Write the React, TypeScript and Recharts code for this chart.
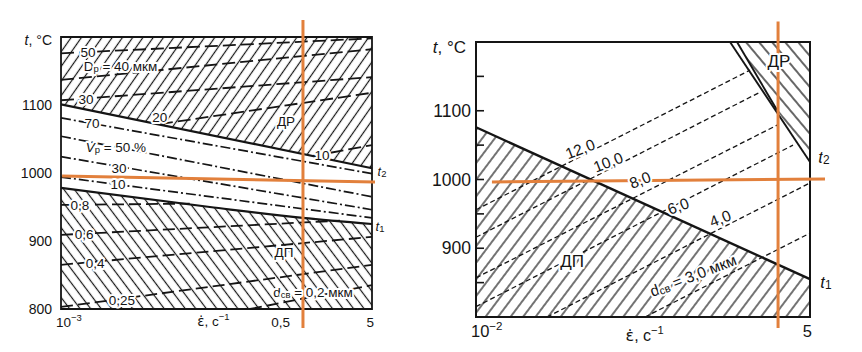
import React from 'react';
import {
  ComposedChart, Line, Area, XAxis, YAxis,
  ReferenceLine, ReferenceDot, ReferenceArea,
} from 'recharts';

const FONT = '"Liberation Sans", Arial, Helvetica, sans-serif';
const MARK_FONT = '"DejaVu Sans", sans-serif';
const INK = '#151515';
const ORANGE = '#e2803c';

// ---------- left diagram ----------
const L_X_TICKS = [0.001, 0.5, 5];
const L_X_LABELS = ['10^{−3}', '0,5', '5'];
const L_Y_TICKS = [800, 900, 1000, 1100];

// boundaries t2 (ДР above) and t1 (ДП below)
const L_T2 = [{ x: 0.001, y: 1101 }, { x: 5, y: 1007 }];
const L_T1 = [{ x: 0.001, y: 978 }, { x: 0.059, y: 950 }, { x: 0.75, y: 934 }, { x: 5, y: 925 }];

// D_р, dashed lines in ДР
const L_GRAIN = [
  [{ x: 0.001, y: 1176 }, { x: 5, y: 1198 }],
  [{ x: 0.001, y: 1137 }, { x: 5, y: 1182 }],
  [{ x: 0.001, y: 1107 }, { x: 5, y: 1141 }],
  [{ x: 0.015, y: 1072 }, { x: 5, y: 1118 }],
  [{ x: 0.99, y: 1025 }, { x: 5, y: 1041 }],
];

// V_р, dash-dot lines between t1 and t2
const L_VOLUME = [
  [{ x: 0.001, y: 1081 }, { x: 5, y: 999 }],
  [{ x: 0.001, y: 1054 }, { x: 5, y: 965 }],
  [{ x: 0.001, y: 1024 }, { x: 5, y: 946 }],
  [{ x: 0.001, y: 994 }, { x: 5, y: 934 }],
];

// d_св, dashed lines in ДП
const L_SUBGRAIN = [
  [{ x: 0.001, y: 953 }, { x: 0.034, y: 955 }],
  [{ x: 0.001, y: 909 }, { x: 2.08, y: 930 }],
  [{ x: 0.001, y: 865 }, { x: 5, y: 906 }],
  [{ x: 0.001, y: 803 }, { x: 5, y: 865 }],
  [{ x: 0.177, y: 800 }, { x: 5, y: 835 }],
];

const L_LABELS = [
  { x: 0.0021, y: 1178, text: '50' },
  { x: 0.0051, y: 1158, text: 'D_{р} = 40 мкм' },
  { x: 0.00198, y: 1109, text: '30' },
  { x: 0.015, y: 1082, text: '20' },
  { x: 0.474, y: 1076, text: 'ДР' },
  { x: 1.27, y: 1026, text: '10' },
  { x: 0.00234, y: 1073, text: '70' },
  { x: 0.0045, y: 1038, text: '*V*_{р} = 50 %' },
  { x: 0.0049, y: 1007, text: '30' },
  { x: 0.00476, y: 984, text: '10' },
  { x: 0.00168, y: 953, text: '0,8' },
  { x: 0.00188, y: 910, text: '0,6' },
  { x: 0.00254, y: 868, text: '0,4' },
  { x: 0.449, y: 884, text: 'ДП' },
  { x: 0.00531, y: 813, text: '0,25' },
  { x: 0.993, y: 825, text: 'd_{св} = 0,2 мкм' },
  { x: 6.58, y: 1003, text: '*t*_{2}' },
  { x: 6.22, y: 922, text: '*t*_{1}' },
];

const L_MARK_H = [{ x: 0.00103, y: 995.6 }, { x: 5.43, y: 986.8 }];
const L_MARK_V = [{ x: 0.755, y: 1225 }, { x: 0.755, y: 772 }];

// ---------- right diagram ----------
const R_X_TICKS = [0.01, 5];
const R_X_LABELS = ['10^{−2}', '5'];
const R_Y_TICKS = [850, 900, 950, 1000, 1050, 1100, 1150];
const R_Y_LABELED = [900, 1000, 1100];

const R_T1 = [{ x: 0.01, y: 1076 }, { x: 5, y: 855 }];
const R_T2_OUTER = [{ x: 1.129, y: 1200 }, { x: 5, y: 1025.5 }];
const R_T2_INNER = [{ x: 1.286, y: 1200 }, { x: 2.706, y: 1101 }];

// d_св, dashed
const R_SUBGRAIN = [
  [{ x: 0.01, y: 956 }, { x: 1.637, y: 1159 }],
  [{ x: 0.01, y: 916 }, { x: 1.972, y: 1127 }],
  [{ x: 0.01, y: 857 }, { x: 2.706, y: 1079 }],
  [{ x: 0.01, y: 815 }, { x: 3.645, y: 1050 }],
  [{ x: 0.0375, y: 800 }, { x: 5, y: 995 }],
  [{ x: 0.232, y: 800 }, { x: 5, y: 922 }],
];

const R_LINE_LABELS = [
  { x: 0.0692, y: 1045, text: '12,0' },
  { x: 0.1166, y: 1026, text: '10,0' },
  { x: 0.2114, y: 1000, text: '8,0' },
  { x: 0.429, y: 962, text: '6,0' },
  { x: 0.937, y: 944, text: '4,0' },
  { x: 0.567, y: 861, text: 'd_{св} = 3,0 мкм' },
];
const R_LABELS = [
  { x: 2.81, y: 1172, text: 'ДР' },
  { x: 0.0597, y: 881, text: 'ДП' },
  { x: 6.49, y: 1033, text: '*t*_{2}' },
  { x: 6.73, y: 851, text: '*t*_{1}' },
];

const R_MARK_H = [{ x: 0.01346, y: 996.4 }, { x: 6.61, y: 1000.7 }];
const R_MARK_V = [{ x: 2.76, y: 1230 }, { x: 2.76, y: 784 }];

// "*it*" italic, "_{x}" subscript, "^{x}" superscript, "~x~" glyph with combining mark
function rich(str: string, fs: number) {
  const parts = str.split(/(_\{[^}]*\}|\^\{[^}]*\}|\*[^*]+\*|~[^~]+~)/).filter(Boolean);
  return parts.map((p, i) => {
    if (p.startsWith('_{'))
      return <tspan key={i} fontSize={fs * 0.7} baselineShift="-28%">{p.slice(2, -1)}</tspan>;
    if (p.startsWith('^{'))
      return <tspan key={i} fontSize={fs * 0.7} baselineShift="45%">{p.slice(2, -1)}</tspan>;
    if (p.startsWith('*'))
      return <tspan key={i} fontStyle="italic">{p.slice(1, -1)}</tspan>;
    if (p.startsWith('~'))
      return <tspan key={i} fontFamily={MARK_FONT}>{p.slice(1, -1)}</tspan>;
    return <tspan key={i}>{p}</tspan>;
  });
}

const RichLabel = (props: any) => {
  const { viewBox, text, fs, rot } = props;
  if (!viewBox) return null;
  const cx = viewBox.x + (viewBox.width || 0) / 2;
  const cy = viewBox.y + (viewBox.height || 0) / 2;
  return (
    <text
      x={cx} y={cy} textAnchor="middle" dominantBaseline="central"
      fontFamily={FONT} fontSize={fs} fill={INK}
      stroke="#fff" strokeWidth={4} paintOrder="stroke" strokeLinejoin="round"
      transform={rot ? `rotate(${rot} ${cx} ${cy})` : undefined}
    >
      {rich(text, fs)}
    </text>
  );
};

const AxisTitle = (props: any) => {
  const { viewBox, text, fs, fx, dx, dy, anchor } = props;
  if (!viewBox) return null;
  const x = fx != null ? viewBox.x + viewBox.width * fx : viewBox.x + viewBox.width + dx;
  return (
    <text x={x} y={viewBox.y + dy} textAnchor={anchor} dominantBaseline="central"
      fontFamily={FONT} fontSize={fs} fill={INK}>
      {rich(text, fs)}
    </text>
  );
};

const makeXTick = (ticks: number[], labels: string[], fs: number, dy: number) => (p: any) => {
  const i = ticks.indexOf(p.payload.value);
  const first = i === 0;
  return (
    <text x={first ? p.x - 5 : p.x + 2} y={p.y + dy} textAnchor={first ? 'start' : 'end'}
      dominantBaseline="central" fontFamily={FONT} fontSize={fs} fill={INK}>
      {rich(labels[i] ?? String(p.payload.value), fs)}
    </text>
  );
};

const LeftYTick = (p: any) => (
  <text x={p.x} y={p.y} textAnchor="end" dominantBaseline="central"
    fontFamily={FONT} fontSize={14} fill={INK}>{p.payload.value}</text>
);

const RightYTick = (p: any) => {
  const v = p.payload.value;
  return (
    <g>
      <line x1={p.x + 4} x2={p.x + 12} y1={p.y} y2={p.y} stroke={INK} strokeWidth={1.6} />
      {R_Y_LABELED.includes(v) && (
        <text x={p.x - 1} y={p.y} textAnchor="end" dominantBaseline="central"
          fontFamily={FONT} fontSize={17.5} fill={INK}>{v}</text>
      )}
    </g>
  );
};

const hatch = (id: string, angle: number, gap: number, w: number) => (
  <pattern id={id} patternUnits="userSpaceOnUse" width={gap} height={gap}
    patternTransform={`rotate(${angle})`}>
    <line x1={gap / 2} y1={0} x2={gap / 2} y2={gap} stroke={INK} strokeWidth={w} />
  </pattern>
);

const seg = (pts: { x: number; y: number }[]) => pts.map((p) => ({ x: p.x, y: p.y }));

function LeftChart() {
  const dr = L_T2.map((p) => ({ x: p.x, r: [p.y, 1200] }));
  const dp = L_T1.map((p) => ({ x: p.x, r: [800, p.y] }));
  return (
    <ComposedChart width={430} height={352} margin={{ top: 37, right: 58, bottom: 13, left: 11 }}>
      <defs>
        {hatch('l-fwd', 35, 8.4, 1.2)}
        {hatch('l-back', -37, 8.4, 1.2)}
      </defs>
      <XAxis type="number" dataKey="x" scale="log" domain={[0.001, 5]} ticks={L_X_TICKS}
        interval={0} height={30} axisLine={false} tickLine={false} tickSize={0} tickMargin={13}
        tick={makeXTick(L_X_TICKS, L_X_LABELS, 13.5, 0)}
        label={<AxisTitle text={'~ε\u0307~, с^{−1}'} fs={13.5} fx={0.49} dy={12} anchor="middle" />} />
      <YAxis type="number" domain={[800, 1200]} ticks={L_Y_TICKS} interval={0} width={50}
        axisLine={false} tickLine={false} tickSize={0} tickMargin={9} tick={<LeftYTick />}
        label={<AxisTitle text="*t*, °C" fs={14} dx={-9} dy={3} anchor="end" />} />

      <Area data={dr} dataKey="r" type="linear" stroke="none" fill="url(#l-fwd)" fillOpacity={1}
        isAnimationActive={false} activeDot={false} />
      <Area data={dp} dataKey="r" type="monotone" stroke="none" fill="url(#l-back)" fillOpacity={1}
        isAnimationActive={false} activeDot={false} />

      {L_GRAIN.map((pts, i) => (
        <Line key={'g' + i} data={seg(pts)} dataKey="y" type="linear" stroke={INK} strokeWidth={1.8}
          strokeDasharray="13 5" dot={false} activeDot={false} isAnimationActive={false} />
      ))}
      {L_VOLUME.map((pts, i) => (
        <Line key={'v' + i} data={seg(pts)} dataKey="y" type="linear" stroke={INK} strokeWidth={1.7}
          strokeDasharray="10 3 2 3" dot={false} activeDot={false} isAnimationActive={false} />
      ))}
      {L_SUBGRAIN.map((pts, i) => (
        <Line key={'s' + i} data={seg(pts)} dataKey="y" type="linear" stroke={INK} strokeWidth={1.8}
          strokeDasharray="12 5" dot={false} activeDot={false} isAnimationActive={false} />
      ))}
      <Line data={L_T2} dataKey="y" type="linear" stroke={INK} strokeWidth={2.2}
        dot={false} activeDot={false} isAnimationActive={false} />
      <Line data={L_T1} dataKey="y" type="monotone" stroke={INK} strokeWidth={2.2}
        dot={false} activeDot={false} isAnimationActive={false} />

      <ReferenceArea x1={0.001} x2={5} y1={800} y2={1200} fill="none" fillOpacity={0}
        stroke={INK} strokeWidth={1.8} ifOverflow="visible" />

      {L_LABELS.map((l, i) => (
        <ReferenceDot key={'lb' + i} x={l.x} y={l.y} r={0} fill="none" stroke="none" ifOverflow="visible"
          label={<RichLabel text={l.text} fs={13.5} />} />
      ))}

      <ReferenceLine segment={L_MARK_H} stroke={ORANGE} strokeWidth={3} ifOverflow="visible" />
      <ReferenceLine segment={L_MARK_V} stroke={ORANGE} strokeWidth={3} ifOverflow="visible" />
    </ComposedChart>
  );
}

function RightChart() {
  const dp = R_T1.map((p) => ({ x: p.x, r: [800, p.y] }));
  const dr = [...R_T2_INNER, R_T2_OUTER[R_T2_OUTER.length - 1]].map((p) => ({ x: p.x, r: [p.y, 1200] }));
  return (
    <ComposedChart width={432} height={352} margin={{ top: 42, right: 52, bottom: 5, left: 6 }}>
      <defs>
        {hatch('r-fwd', 37, 10, 1.2)}
        {hatch('r-back', -40, 10, 1.3)}
      </defs>
      <XAxis type="number" dataKey="x" scale="log" domain={[0.01, 5]} ticks={R_X_TICKS}
        interval={0} height={30} axisLine={false} tickLine={false} tickSize={0} tickMargin={14}
        tick={makeXTick(R_X_TICKS, R_X_LABELS, 16.5, 0)}
        label={<AxisTitle text={'~ε\u0307~, с^{−1}'} fs={16} fx={0.505} dy={18} anchor="middle" />} />
      <YAxis type="number" domain={[800, 1200]} ticks={R_Y_TICKS} interval={0} width={40}
        axisLine={false} tickLine={false} tickSize={0} tickMargin={4} tick={<RightYTick />}
        label={<AxisTitle text="*t*, °C" fs={17} dx={-10} dy={5} anchor="end" />} />

      <Area data={dp} dataKey="r" type="linear" stroke="none" fill="url(#r-fwd)" fillOpacity={1}
        isAnimationActive={false} activeDot={false} />
      <Area data={dr} dataKey="r" type="linear" stroke="none" fill="url(#r-back)" fillOpacity={1}
        isAnimationActive={false} activeDot={false} />

      {R_SUBGRAIN.map((pts, i) => (
        <Line key={'s' + i} data={seg(pts)} dataKey="y" type="linear" stroke={INK} strokeWidth={1.3}
          strokeDasharray="5 3" dot={false} activeDot={false} isAnimationActive={false} />
      ))}
      <Line data={R_T1} dataKey="y" type="linear" stroke={INK} strokeWidth={2.4}
        dot={false} activeDot={false} isAnimationActive={false} />
      <Line data={R_T2_OUTER} dataKey="y" type="linear" stroke={INK} strokeWidth={1.9}
        dot={false} activeDot={false} isAnimationActive={false} />
      <Line data={R_T2_INNER} dataKey="y" type="linear" stroke={INK} strokeWidth={1.9}
        dot={false} activeDot={false} isAnimationActive={false} />

      <ReferenceArea x1={0.01} x2={5} y1={800} y2={1200} fill="none" fillOpacity={0}
        stroke={INK} strokeWidth={2} ifOverflow="visible" />

      {R_LINE_LABELS.map((l, i) => (
        <ReferenceDot key={'ll' + i} x={l.x} y={l.y} r={0} fill="none" stroke="none" ifOverflow="visible"
          label={<RichLabel text={l.text} fs={15.5} rot={-21} />} />
      ))}
      {R_LABELS.map((l, i) => (
        <ReferenceDot key={'lb' + i} x={l.x} y={l.y} r={0} fill="none" stroke="none" ifOverflow="visible"
          label={<RichLabel text={l.text} fs={17} />} />
      ))}

      <ReferenceLine segment={R_MARK_H} stroke={ORANGE} strokeWidth={3} ifOverflow="visible" />
      <ReferenceLine segment={R_MARK_V} stroke={ORANGE} strokeWidth={3} ifOverflow="visible" />
    </ComposedChart>
  );
}

export default function App() {
  return (
    <div style={{ position: 'absolute', left: 0, top: 0, width: 862, height: 352, background: '#fff' }}>
      <div style={{ position: 'absolute', left: 0, top: 0 }}>
        <LeftChart />
      </div>
      <div style={{ position: 'absolute', left: 430, top: 0 }}>
        <RightChart />
      </div>
    </div>
  );
}
